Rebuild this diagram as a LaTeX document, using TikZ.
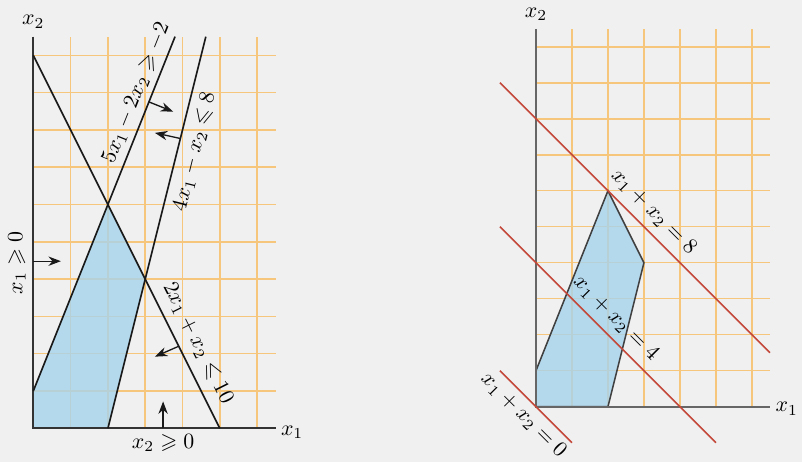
\documentclass[tikz,border=0pt]{standalone}
\usepackage{amsmath}
\usepackage{amssymb}
\usetikzlibrary{arrows.meta}

\definecolor{paper}{RGB}{240,240,240}
\definecolor{gridorange}{RGB}{246,198,125}
\definecolor{feasblue}{RGB}{166,211,236}
\definecolor{levelred}{RGB}{196,72,58}

\begin{document}
\begin{tikzpicture}[
    x=0.6cm, y=0.6cm,
    >=Stealth,
    gridln/.style={gridorange, line width=0.7pt},
    axisln/.style={black!80, line width=0.75pt},
    bound/.style={black!90, line width=0.75pt},
    level/.style={levelred, line width=0.75pt},
    region/.style={fill=feasblue, fill opacity=0.8},
    hint/.style={->, black!90, line width=0.6pt},
    lab/.style={inner sep=0pt, text=black},
]
  \fill[paper] (-0.893,-0.903) rectangle (20.61,11.483);
  \useasboundingbox (-0.893,-0.903) rectangle (20.61,11.483);

  % left: the constraints
  \foreach \i in {1,...,6} \draw[gridln] (\i,0) -- (\i,10.5);
  \foreach \j in {1,...,10} \draw[gridln] (0,\j) -- (6.5,\j);
  \fill[region] (0,0) -- (2,0) -- (3,4) -- (2,6) -- (0,1) -- cycle;
  \draw[axisln] (0,10.5) -- (0,0) -- (6.5,0);
  \node[lab] (ax2) at (0,10.9) {$x_2$};
  \node[lab] (ax1) at (6.94,-0.1) {$x_1$};

  \draw[bound] (0,10) -- (5,0)
    node[lab, pos=.794, sloped, above=4pt] (cC) {$2x_1 + x_2 \leqslant 10$};
  \draw[bound] (0,1) -- (3.8,10.5)
    node[lab, pos=.825, sloped, above=2.5pt] (cA) {$5x_1 - 2x_2 \geqslant -2$};
  \draw[bound] (2,0) -- (4.625,10.5)
    node[lab, pos=.7175, sloped, below=3.5pt] (cB) {$4x_1 - x_2 \leqslant 8$};

  \node[lab, rotate=90] (cD) at (-0.44,4.43) {$x_1 \geqslant 0$};
  \node[lab] (cE) at (3.48,-0.39) {$x_2 \geqslant 0$};

  \draw[hint] (3.1,8.75) -- ++(0.65,-0.26);
  \draw[hint] (3.94,7.77) -- ++(-0.68,0.15);
  \draw[hint] (3.9,2.2) -- ++(-0.64,-0.28);
  \draw[hint] (0,4.48) -- ++(0.74,0);
  \draw[hint] (3.48,0) -- ++(0,0.72);

  % right: the objective lines
  \begin{scope}[shift={(13.477,0.579)}, scale=0.965]
    \foreach \i in {1,...,6} \draw[gridln] (\i,0) -- (\i,10.5);
    \foreach \j in {1,...,10} \draw[gridln] (0,\j) -- (6.5,\j);
    \filldraw[region, draw=black!75, line width=0.7pt, draw opacity=1]
      (0,0) -- (2,0) -- (3,4) -- (2,6) -- (0,1) -- cycle;
    \draw[axisln, black!60] (0,10.5) -- (0,0) -- (6.5,0);
    \node[lab] (bx2) at (0,10.9) {$x_2$};
    \node[lab] (bx1) at (6.97,-0.06) {$x_1$};

    \draw[level] (-1,9) -- (6.5,1.5)
      node[lab, pos=.525, sloped, above=3.5pt] (z8) {$x_1 + x_2 = 8$};
    \draw[level] (-1,5) -- (5,-1)
      node[lab, pos=.481, sloped, above=3.5pt] (z4) {$x_1 + x_2 = 4$};
    \draw[level] (-1,1) -- (1,-1)
      node[lab, pos=.475, sloped, below=2.5pt] (z0) {$x_1 + x_2 = 0$};
  \end{scope}
\end{tikzpicture}
\end{document}
